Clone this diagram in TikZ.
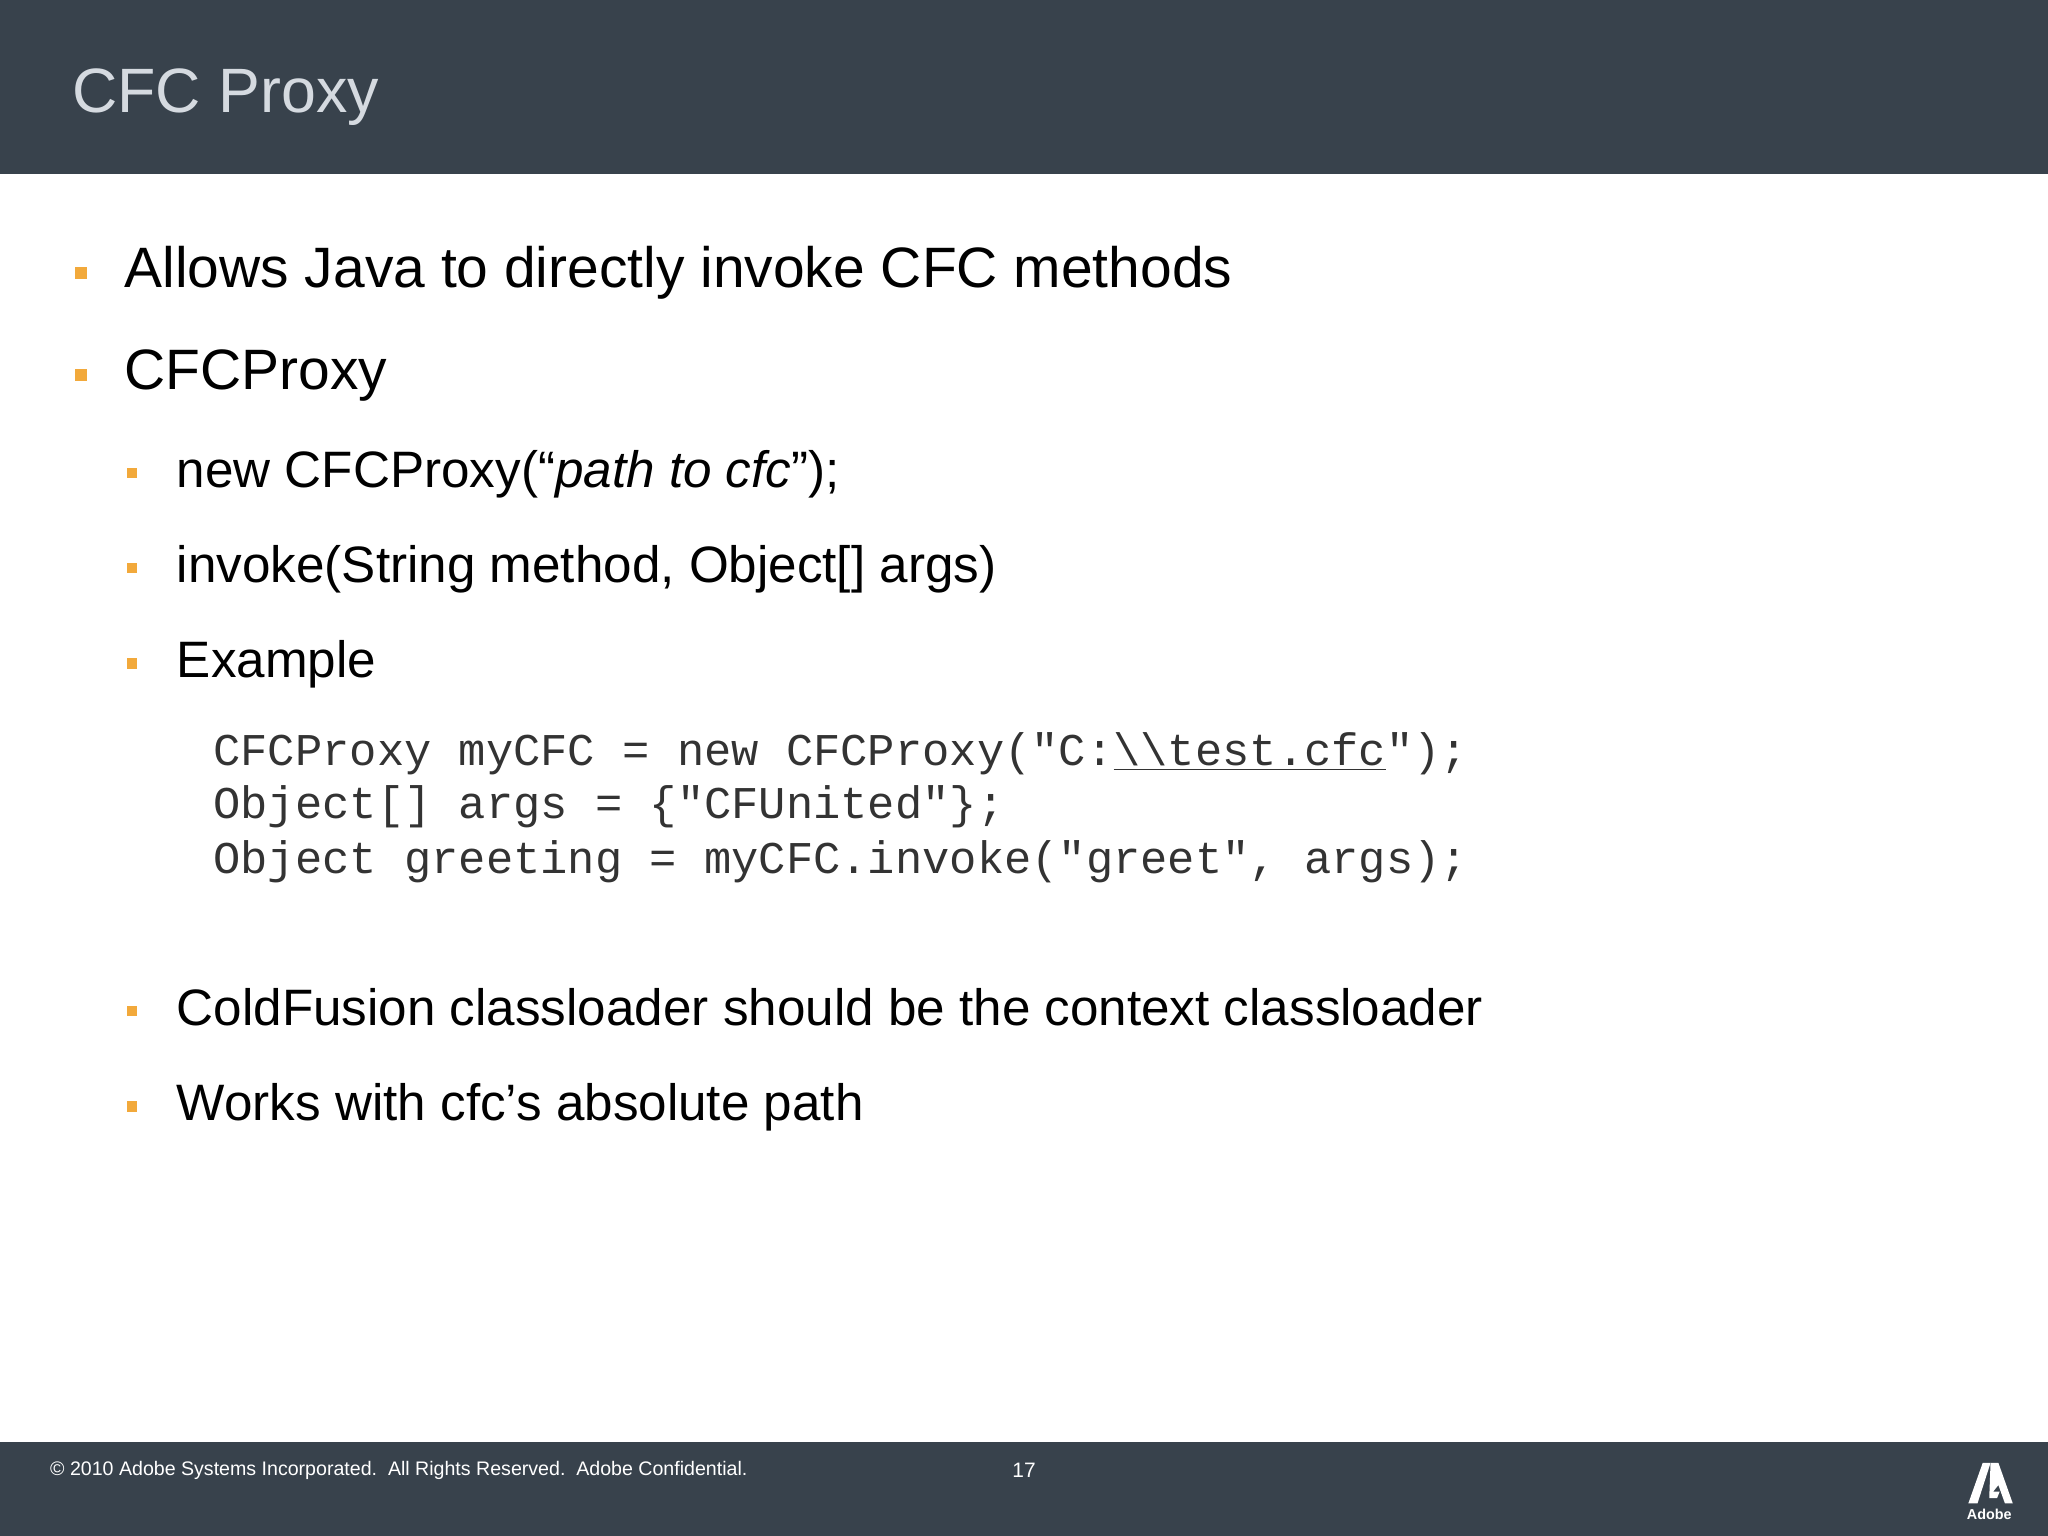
\documentclass[tikz,border=0pt]{standalone}
\usepackage{fontspec}
\setmainfont{Liberation Sans}
\setmonofont{Liberation Mono}
\definecolor{hdr}{HTML}{38424C}
\definecolor{ttl}{HTML}{D5DAE0}
\definecolor{org}{HTML}{F2A93B}
\definecolor{code}{HTML}{333333}
\begin{document}
\begin{tikzpicture}[x=0.5pt,y=-0.5pt,
  big/.style={anchor=base west,inner sep=0,font=\fontsize{21.8}{26}\selectfont},
  sub/.style={anchor=base west,inner sep=0,font=\fontsize{19.6}{24}\selectfont},
  cd/.style={anchor=base west,inner sep=0,text=code,font=\ttfamily\fontsize{17.4}{20}\selectfont},
  bb/.style={fill=org,minimum size=4.5pt,inner sep=0},
  sb/.style={fill=org,minimum size=4pt,inner sep=0}]
\useasboundingbox (0,0) rectangle (1568,1176);
\fill[hdr] (0,0) rectangle (1568,133);
\fill[hdr] (0,1104) rectangle (1568,1176);
\node[anchor=base west,inner sep=0,text=ttl,font=\fontsize{24}{28}\selectfont] (title) at (55,86) {CFC Proxy};
\node[bb] (b1) at (62,209) {};
\node[big] (t1) at (95,220) {Allows Java to directly invoke CFC methods};
\node[bb] (b2) at (62,287) {};
\node[big] (t2) at (95,298) {CFCProxy};
\node[sb] (s1) at (101,362) {};
\node[sub] (u1) at (135,373) {new CFCProxy(“\textit{path to cfc}\symbol{34});};
\node[sb] (s2) at (101,435) {};
\node[sub] (u2) at (135,446) {invoke(String method, Object[] args)};
\node[sb] (s3) at (101,508) {};
\node[sub] (u3) at (135,519) {Example};
\node[cd] (c1) at (163,586) {CFCProxy myCFC = new CFCProxy("C:\underline{\textbackslash\textbackslash test.cfc}");};
\node[cd] (c2) at (163,627) {Object[] args = \{"CFUnited"\};};
\node[cd] (c3) at (163,669) {Object greeting = myCFC.invoke("greet", args);};
\node[sb] (s4) at (101,774) {};
\node[sub] (u4) at (135,785) {ColdFusion classloader should be the context classloader};
\node[sb] (s5) at (101,847) {};
\node[sub] (u5) at (135,858) {Works with cfc’s absolute path};
\node[anchor=base west,inner sep=0,text=white,font=\fontsize{7.5}{9}\selectfont] (foot) at (38,1130) {© 2010 Adobe Systems Incorporated.\ \ All Rights Reserved.\ \ Adobe Confidential.};
\node[anchor=base,inner sep=0,text=white,font=\fontsize{8}{9}\selectfont] (pg) at (784,1131) {17};
\fill[white] (1507,1151) -- (1518,1120) -- (1524,1120) -- (1514,1151) -- cycle;
\fill[white] (1524,1120) -- (1530,1120) -- (1541,1151) -- (1535,1151) -- (1530,1137) -- (1526,1142) -- (1531,1142) -- (1529,1147) -- (1523,1147) -- cycle;
\node[anchor=base,inner sep=0,text=white,font=\bfseries\fontsize{5.5}{6}\selectfont] (adobe) at (1523,1163) {Adobe};
\end{tikzpicture}
\end{document}
